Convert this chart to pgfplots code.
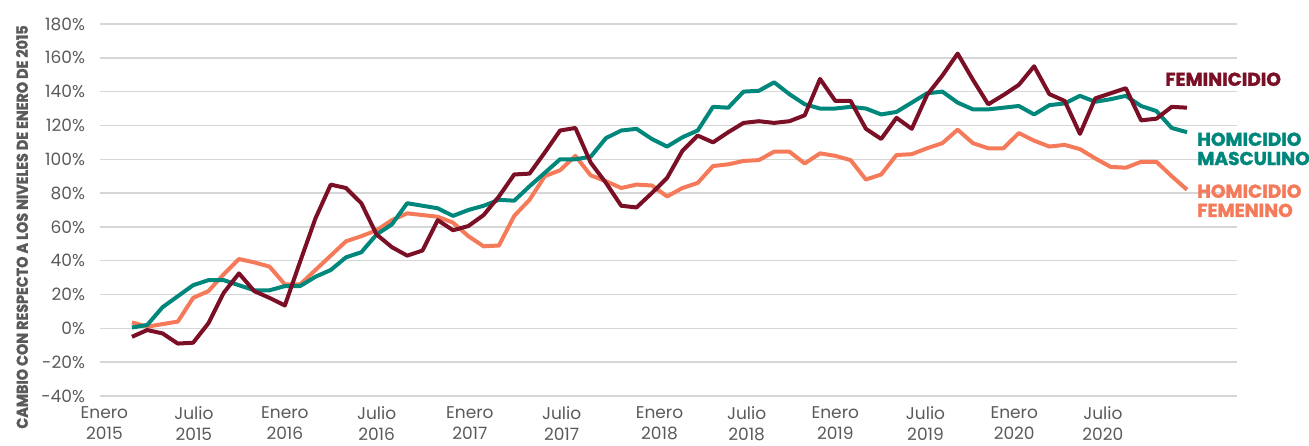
\documentclass[border=0pt]{standalone}
\usepackage{pgfplots}
\usepackage{pgfplotstable}
\usepackage{fontspec}
\pgfplotsset{compat=1.18}
\setmainfont{Poppins}
\newfontfamily\gruesa{Poppins}[BoldFeatures={FakeBold=1.6}]
\definecolor{Granate}{HTML}{7A0F25}
\definecolor{Verde}{HTML}{00877B}
\definecolor{Coral}{HTML}{F47A5A}
\definecolor{Rejilla}{HTML}{D6D6D6}
\definecolor{Texto}{HTML}{5A5A5A}

% m = meses desde enero 2015
\pgfplotstableread{
m fem masc hfem
0 -5 0.5 3.5
1 -1 2 1
2 -3 12.5 2.5
3 -9 19 4
4 -8.5 25.5 18
5 3 28.5 22
6 21 28.5 32
7 32.5 25.5 41
8 22 22.5 39
9 18 22.5 36.5
10 13.5 25 26
11 39.5 25 26
12 65 30.5 34.5
13 85 34.5 43
14 83 42 51.5
15 74 45 54.5
16 55.5 55.5 58
17 48 61.5 64
18 43 74 68
19 46 72.5 67
20 64 71 66
21 58 66.5 62.5
22 60.5 70 54.5
23 67 72.5 48.5
24 78 76 49
25 91 75.5 66.5
26 91.5 84 76
27 104 92 90
28 117 100 93.5
29 118.5 100 102
30 98 101.5 90.5
31 86 112.5 87
32 72.5 117 83
33 71.5 118 85
34 80 112 84.5
35 89 107.5 78
36 105 113 83
37 114 117 86
38 110 131 96
39 116 130.5 97
40 121.5 140 99
41 122.5 140.5 99.5
42 121.5 145.5 104.5
43 122.5 138.5 104.5
44 126 132.5 97.5
45 147.5 130 103.5
46 134.5 130 102
47 134.5 131 99.5
48 118 130 88
49 112 126.5 91
50 124.5 128 102.5
51 118 133.5 103
52 138 139 106.5
53 149.5 140 109.5
54 162.5 133.5 117.5
55 147 129.5 109.5
56 132.5 129.5 106.5
57 138 130.5 106.5
58 144 131.5 115.5
59 155 126.5 111
60 138.5 132 107.5
61 134.5 133 108.5
62 115 137.5 106
63 136 134 100.5
64 139 135.5 95.5
65 142 137.5 95
66 123 131.5 98.5
67 124 128.5 98.5
68 131 118.5 90
69 130.5 116 82
}\datos

\begin{document}
\begin{tikzpicture}
\begin{axis}[
  scale only axis,
  width=568.5pt, height=186pt,
  xmin=-2.09, xmax=72.27,
  ymin=-40, ymax=180,
  axis line style={draw=none},
  major tick length=0pt,
  ytick={-40,-20,...,180},
  yticklabels={-40\%,-20\%,0\%,20\%,40\%,60\%,80\%,100\%,120\%,140\%,160\%,180\%},
  xtick={-1.8,4.05,10.0,16.0,22.1,28.1,34.5,40.2,46.0,51.9,57.7,63.5},
  xticklabels={Enero\\2015,Julio\\2015,Enero\\2016,Julio\\2016,Enero\\2017,Julio\\2017,
    Enero\\2018,Julio\\2018,Enero\\2019,Julio\\2019,Enero\\2020,Julio\\2020},
  xticklabel style={align=center, yshift=-2pt},
  yticklabel style={xshift=-4pt},
  ticklabel style={font=\fontsize{8.5}{10.4}\selectfont, text=Texto},
  ymajorgrids,
  grid style={line width=0.75pt, Rejilla},
  clip=false,
  every axis plot/.append style={line width=2pt, line join=round, no markers},
]
\addplot[Coral] table[x=m, y=hfem]{\datos};
\addplot[Verde] table[x=m, y=masc]{\datos};
\addplot[Granate] table[x=m, y=fem]{\datos};

\node[anchor=north west, inner sep=0pt, text=Granate,
  font=\fontsize{9.3}{9.6}\gruesa\bfseries] at (axis cs:67.56,151.5) {FEMINICIDIO};
\node[anchor=north west, inner sep=0pt, align=left, text=Verde,
  font=\fontsize{9.3}{9.6}\gruesa\bfseries] at (axis cs:69.65,116) {HOMICIDIO\\MASCULINO};
\node[anchor=north west, inner sep=0pt, align=left, text=Coral,
  font=\fontsize{9.3}{9.6}\gruesa\bfseries] at (axis cs:69.65,85.3) {HOMICIDIO\\FEMENINO};

\node[rotate=90, inner sep=0pt, text=Texto, font=\fontsize{7.8}{8}\gruesa\bfseries]
  at ([xshift=-39pt, yshift=-8.5pt]rel axis cs:0,0.5)
  {\scalebox{0.92}[1]{CAMBIO CON RESPECTO A LOS NIVELES DE ENERO DE 2015}};
\end{axis}
\pgfresetboundingbox
\path[use as bounding box] ([xshift=-50pt, yshift=-25pt]current axis.south west)
  rectangle ([xshift=36pt, yshift=12pt]current axis.north east);
\end{tikzpicture}
\end{document}
